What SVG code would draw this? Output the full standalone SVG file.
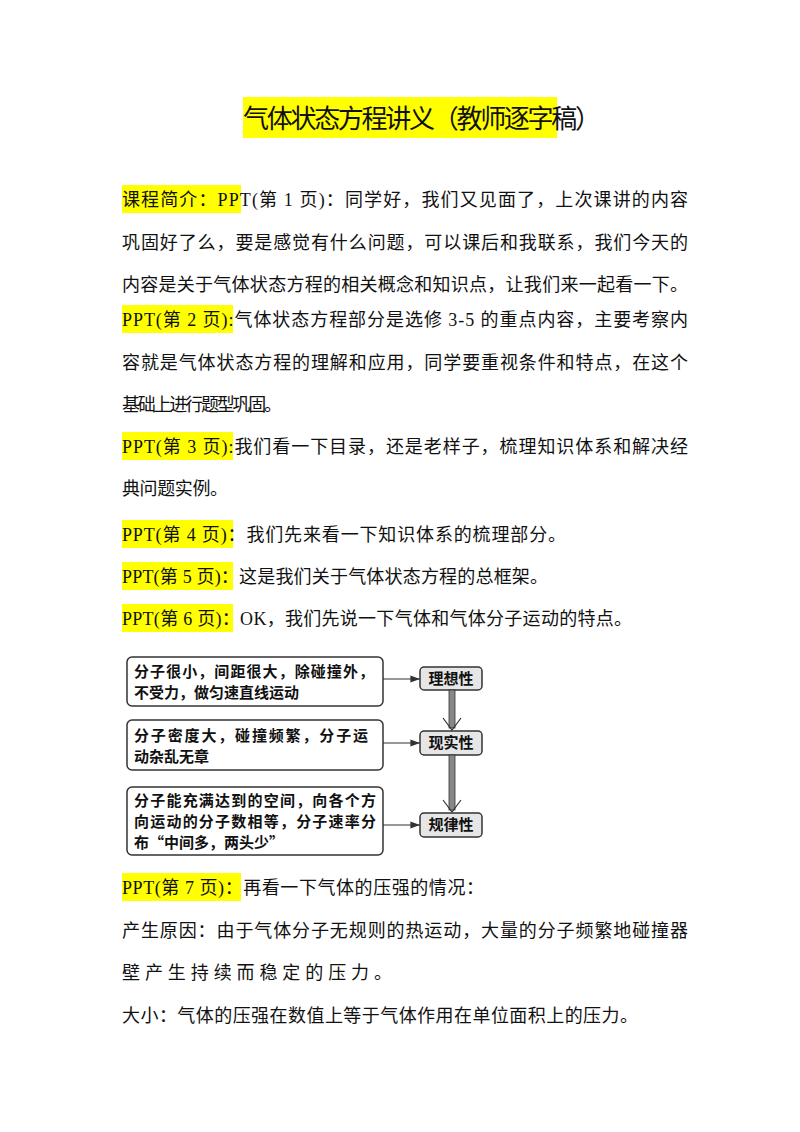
<svg xmlns="http://www.w3.org/2000/svg" width="800" height="1132" viewBox="0 0 800 1132">
<style>
text{font-family:"Liberation Serif","Noto Sans CJK SC",serif;fill:#111}
.b{font-size:18px}
.hl{fill:#ffff00}
.box{fill:#fff;stroke:#333;stroke-width:1.5}
.lb{fill:#e6e6e6;stroke:#333;stroke-width:1.5}
.d{font-family:"Noto Sans CJK SC",sans-serif;font-size:15px;font-weight:bold}
.c{stroke:#333;stroke-width:1.2;fill:none}
</style>
<defs><marker id="a" markerWidth="8" markerHeight="6" refX="8" refY="3" orient="auto"><path d="M0,0L8,3L0,6z" fill="#333"/></marker></defs>
<rect width="800" height="1132" fill="#fff"/>
<rect class="hl" x="243" y="97" width="314" height="41"/>
<text x="243" y="128" font-size="26" textLength="358">气体状态方程讲义（教师逐字稿）</text>
<rect class="hl" x="122" y="185" width="119" height="28"/>
<rect class="hl" x="122" y="305" width="111" height="28"/>
<rect class="hl" x="122" y="432" width="111" height="28"/>
<rect class="hl" x="122" y="520" width="111" height="28"/>
<rect class="hl" x="122" y="562" width="111" height="28"/>
<rect class="hl" x="122" y="604" width="111" height="28"/>
<rect class="hl" x="122" y="873" width="119" height="28"/>
<text class="b" x="122" y="206" textLength="566">课程简介：PPT(第 1 页)：同学好，我们又见面了，上次课讲的内容</text>
<text class="b" x="122" y="249" textLength="566">巩固好了么，要是感觉有什么问题，可以课后和我联系，我们今天的</text>
<text class="b" x="122" y="291" textLength="566">内容是关于气体状态方程的相关概念和知识点，让我们来一起看一下。</text>
<text class="b" x="122" y="326" textLength="566">PPT(第 2 页):气体状态方程部分是选修 3-5 的重点内容，主要考察内</text>
<text class="b" x="122" y="369" textLength="566">容就是气体状态方程的理解和应用，同学要重视条件和特点，在这个</text>
<text class="b" x="122" y="411" textLength="160">基础上进行题型巩固。</text>
<text class="b" x="122" y="453" textLength="566">PPT(第 3 页):我们看一下目录，还是老样子，梳理知识体系和解决经</text>
<text class="b" x="122" y="495" textLength="106">典问题实例。</text>
<text class="b" x="122" y="541" textLength="444">PPT(第 4 页)：我们先来看一下知识体系的梳理部分。</text>
<text class="b" x="122" y="583" textLength="426">PPT(第 5 页)：这是我们关于气体状态方程的总框架。</text>
<text class="b" x="122" y="625" textLength="510">PPT(第 6 页)：OK，我们先说一下气体和气体分子运动的特点。</text>
<g id="n1"><rect class="box" x="127" y="657" width="256" height="49" rx="5"/>
<text class="d" x="134" y="677" textLength="240">分子很小，间距很大，除碰撞外，</text><text class="d" x="134" y="698">不受力，做匀速直线运动</text></g>
<g id="n2"><rect class="box" x="127" y="720" width="256" height="50" rx="5"/>
<text class="d" x="134" y="741" textLength="234">分子密度大，碰撞频繁，分子运</text><text class="d" x="134" y="762">动杂乱无章</text></g>
<g id="n3"><rect class="box" x="127" y="787" width="256" height="68" rx="5"/>
<text class="d" x="134" y="806" textLength="242">分子能充满达到的空间，向各个方</text><text class="d" x="134" y="827" textLength="242">向运动的分子数相等，分子速率分</text><text class="d" x="134" y="848">布“中间多，两头少”</text></g>
<g id="n4"><rect class="lb" x="420" y="667" width="62" height="23" rx="4"/><text class="d" x="451" y="684" text-anchor="middle">理想性</text></g>
<g id="n5"><rect class="lb" x="420" y="731" width="62" height="24" rx="4"/><text class="d" x="451" y="748" text-anchor="middle">现实性</text></g>
<g id="n6"><rect class="lb" x="420" y="813" width="62" height="24" rx="4"/><text class="d" x="451" y="830" text-anchor="middle">规律性</text></g>
<g id="connectors">
<line class="c" x1="383" y1="679" x2="420" y2="679" marker-end="url(#a)"/>
<line class="c" x1="383" y1="743" x2="420" y2="743" marker-end="url(#a)"/>
<line class="c" x1="383" y1="825" x2="420" y2="825" marker-end="url(#a)"/>
<rect x="449" y="690" width="6" height="38" fill="#888" stroke="#333" stroke-width="0.8"/>
<path class="c" d="M443,718L452,730L461,718"/>
<rect x="449" y="755" width="6" height="55" fill="#888" stroke="#333" stroke-width="0.8"/>
<path class="c" d="M443,800L452,812L461,800"/>
</g>
<text class="b" x="122" y="894" textLength="362">PPT(第 7 页)：再看一下气体的压强的情况：</text>
<text class="b" x="122" y="937" textLength="566">产生原因：由于气体分子无规则的热运动，大量的分子频繁地碰撞器</text>
<text class="b" x="122" y="979" textLength="270">壁产生持续而稳定的压力。</text>
<text class="b" x="122" y="1022" textLength="516">大小：气体的压强在数值上等于气体作用在单位面积上的压力。</text>
</svg>
